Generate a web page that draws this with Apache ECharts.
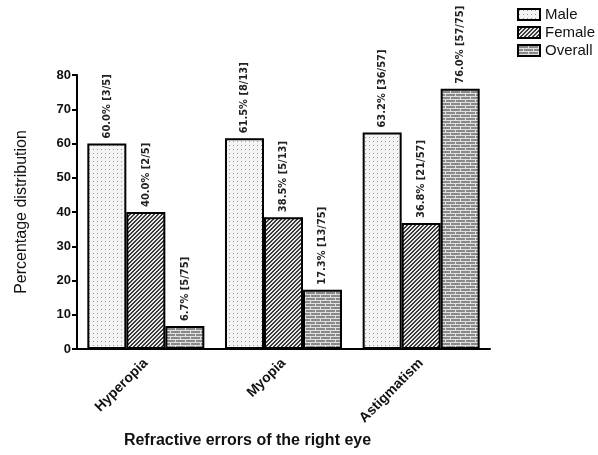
<!DOCTYPE html>
<html><head><meta charset="utf-8">
<script src="https://cdn.jsdelivr.net/npm/echarts@6/dist/echarts.min.js"></script>
<style>html,body{margin:0;padding:0;background:#fff}#c{width:598px;height:455px}</style>
</head><body><div id="c"></div>
<script>
const categories = ['Hyperopia', 'Myopia', 'Astigmatism'];
const seriesNames = ['Male', 'Female', 'Overall'];
const maleValues = [60.0, 61.5, 63.2];
const femaleValues = [40.0, 38.5, 36.8];
const overallValues = [6.7, 17.3, 76.0];
const maleCounts = ['[3/5]', '[8/13]', '[36/57]'];
const femaleCounts = ['[2/5]', '[5/13]', '[21/57]'];
const overallCounts = ['[5/75]', '[13/75]', '[57/75]'];
const yTicks = [0, 10, 20, 30, 40, 50, 60, 70, 80];

function makeDots() {
  const c = document.createElement('canvas'); c.width = 4; c.height = 4;
  const g = c.getContext('2d');
  g.fillStyle = '#f4f4f4'; g.fillRect(0, 0, 4, 4);
  g.fillStyle = '#9a9a9a'; g.fillRect(1, 1, 1, 1);
  return c;
}
function makeHatch() {
  const c = document.createElement('canvas'); c.width = 4; c.height = 4;
  const g = c.getContext('2d');
  g.fillStyle = '#e8e8e8'; g.fillRect(0, 0, 4, 4);
  g.fillStyle = '#3a3a3a';
  for (let i = 0; i < 4; i++) { g.fillRect(3 - i, i, 1, 1); g.fillRect((3 - i + 1) % 4, i, 1, 1); }
  return c;
}
function makeBrick() {
  const c = document.createElement('canvas'); c.width = 10; c.height = 6;
  const g = c.getContext('2d');
  g.fillStyle = '#8a8a8a'; g.fillRect(0, 0, 10, 6);
  g.fillStyle = '#e0e0e0';
  g.fillRect(0, 0, 10, 1); g.fillRect(0, 3, 10, 1);
  g.fillRect(0, 0, 1, 3); g.fillRect(5, 3, 1, 3);
  return c;
}
const fills = [makeDots(), makeHatch(), makeBrick()];
const valuesList = [maleValues, femaleValues, overallValues];
const countsList = [maleCounts, femaleCounts, overallCounts];

const chart = echarts.init(document.getElementById('c'));
const series = seriesNames.map((name, si) => ({
  name: name,
  type: 'bar',
  barGap: '0%',
  barCategoryGap: '15%',
  data: valuesList[si],
  itemStyle: { color: { image: fills[si], repeat: 'repeat' }, borderColor: '#000', borderWidth: 2 },
  label: {
    show: true, position: 'top', rotate: 90, align: 'left', verticalAlign: 'middle', distance: 5,
    fontStyle: 'condensed',
    fontFamily: '"DejaVu Sans", sans-serif',
    fontSize: 11, fontWeight: 'bold', color: '#222',
    formatter: p => valuesList[si][p.dataIndex].toFixed(1) + '% ' + countsList[si][p.dataIndex]
  }
}));

chart.setOption({
  animation: false,
  textStyle: { fontFamily: 'Arial, "Liberation Sans", sans-serif' },
  grid: { left: 77, right: 108, top: 75, bottom: 106, containLabel: false },
  legend: {
    orient: 'vertical', left: 512, top: 2, itemWidth: 22, itemHeight: 11, itemGap: 3,
    icon: 'rect', data: seriesNames,
    itemStyle: { borderColor: '#000', borderWidth: 2 },
    textStyle: { fontSize: 15, color: '#111', fontFamily: 'Arial, "Liberation Sans", sans-serif' }
  },
  xAxis: {
    type: 'category', data: categories,
    name: 'Refractive errors of the right eye', nameLocation: 'middle', nameGap: 83,
    nameTextStyle: { fontSize: 16, fontWeight: 'bold', color: '#111', padding: [0, 72, 0, 0] },
    axisLine: { lineStyle: { color: '#000', width: 2 } },
    axisTick: { alignWithLabel: true, length: 6, lineStyle: { width: 2, color: '#000' } },
    axisLabel: { rotate: 45, fontSize: 14, fontWeight: 'bold', color: '#111', margin: 12 }
  },
  yAxis: {
    type: 'value', min: yTicks[0], max: yTicks[yTicks.length - 1], interval: 10,
    name: 'Percentage distribution', nameLocation: 'middle', nameGap: 47,
    nameTextStyle: { fontSize: 16, color: '#111' },
    axisLine: { show: true, lineStyle: { color: '#000', width: 2 } },
    axisTick: { show: true, length: 5, lineStyle: { width: 2, color: '#000' } },
    axisLabel: { fontSize: 13, fontWeight: 'bold', color: '#111', margin: 6 },
    splitLine: { show: false }
  },
  series: series
});
</script></body></html>
